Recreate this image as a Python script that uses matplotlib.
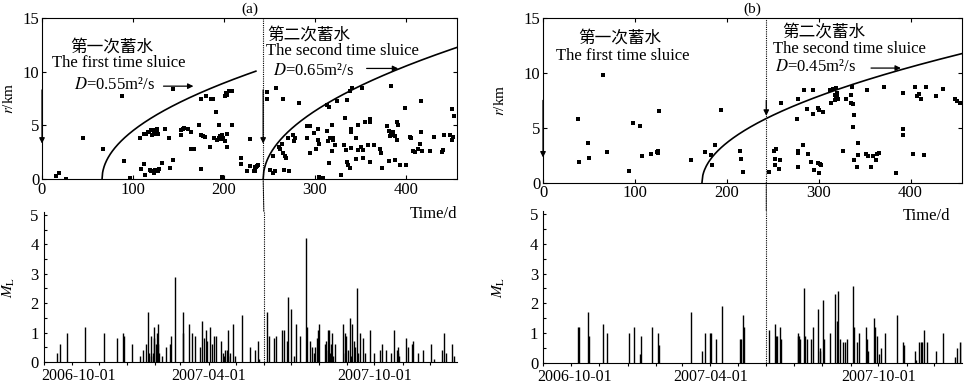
import numpy as np
import pandas as pd
import matplotlib
matplotlib.use('Agg')
import matplotlib.pyplot as plt
from matplotlib.patches import ConnectionPatch
from matplotlib.ticker import MultipleLocator, FixedLocator
import matplotlib.transforms as mtransforms

plt.rcParams['font.family'] = ['Liberation Serif', 'Noto Sans CJK SC']
plt.rcParams['mathtext.fontset'] = 'stix'

# ============================================================
# data (days since 2006-10-01)
# ============================================================
start_date = '2006-10-01'
date_labels = ['2006-10-01', '2007-04-01', '2007-10-01']
sluice_day = 243
x_end = 456

# (a) hypocentre distance r (km) vs time
a_days = [15, 18.6, 26, 44.6, 66.5, 88, 90, 96.6, 107.6, 109, 112, 113, 112, 116.7, 118.5, 120,
          113.8, 117.4, 121, 123.3, 124.7, 126.9, 127.7, 121, 124.7, 126,
          120.3, 123, 124.7, 127.7, 129, 132, 135.7, 139.4, 140.5, 144, 144,
          152.5, 154.4, 156.2, 160.6, 163.5, 152.5, 164, 167, 173,
          174.5, 180, 186, 188, 175, 177, 179, 175, 184.4, 189, 191,
          192, 194, 196, 197, 198, 199, 201, 203, 203, 194, 198,
          201, 202, 203, 209, 205, 209, 219, 219, 228, 234, 234, 225, 228, 236,
          233, 235.3, 237.8, 247, 247, 257, 265, 282.8, 313.5, 315.4, 324.5, 335.5, 338.4, 340.3,
          351.3, 384, 398.8, 416, 450, 452.6,
          254, 250, 253.5, 256, 260, 261, 264, 265, 266.5, 268, 270, 276, 278, 277, 266, 271,
          291.6, 294.5, 299, 303.6, 295, 291.6, 303, 304, 301, 304.7, 308.4,
          313, 316, 318, 320, 314, 320, 322, 319, 319, 315,
          329, 333, 335, 336, 338, 332, 334, 340, 340, 340, 345, 347, 350, 347, 345,
          355, 360.6, 360.6, 353, 358, 353, 360, 365, 371, 372, 374,
          379, 381, 382, 383, 386, 388, 390, 391, 390, 381, 388, 393, 400,
          404, 406, 408, 409.5, 413, 415, 416, 417, 426, 430.6, 440, 441, 442, 448, 450, 452]
a_r = [0.3, 0.55, 0.0, 3.8, 2.8, 7.7, 1.7, 0.1, 3.8, 0.9, 1.4, 0.4, 4.2, 4.4, 0.8, 4.6,
       4.2, 4.4, 4.6, 4.5, 4.6, 4.4, 4.2, 4.1, 4.2, 4.7,
       0.7, 0.6, 0.8, 0.7, 0.9, 1.5, 4.7, 3.85, 1.0, 1.8, 8.4,
       4.6, 4.7, 4.75, 4.7, 4.4, 4.1, 2.8, 2.8, 5.0,
       7.5, 7.7, 7.5, 7.5, 4.1, 4.0, 3.9, 0.9, 3.0, 3.8, 6.2,
       3.6, 3.8, 4.0, 3.7, 4.1, 3.8, 3.5, 3.0, 4.2, 5.0, 0.2,
       7.7, 8.0, 7.8, 8.2, 8.2, 5.0, 2.0, 1.4, 3.7, 1.1, 0.75, 0.7, 1.2, 1.25,
       0.75, 1.15, 1.3, 8.1, 7.5, 8.45, 7.5, 7.1, 6.9, 6.7, 7.3, 7.4, 8.2, 8.45,
       8.45, 8.65, 6.6, 7.3, 6.5, 5.9,
       2.15, 0.8, 0.6, 0.75, 3.0, 2.8, 3.3, 2.4, 2.1, 1.95, 3.8, 4.1, 3.8, 3.5, 0.8, 0.75,
       4.9, 4.9, 4.3, 4.7, 2.4, 3.8, 3.6, 3.3, 2.8, 0.2, 0.05,
       4.5, 3.8, 3.8, 3.8, 3.5, 3.6, 3.2, 2.6, 5.0, 1.45,
       0.4, 5.65, 1.6, 1.3, 1.05, 3.2, 2.7, 2.9, 4.7, 4.4, 3.8, 2.7, 3.0, 5.0, 1.9,
       5.3, 5.6, 5.3, 2.7, 3.2, 2.0, 1.6, 3.2, 2.8, 2.4, 1.0,
       4.9, 4.5, 4.0, 4.1, 4.4, 4.0, 5.3, 5.0, 3.6, 1.7, 1.8, 1.3, 1.3,
       3.9, 3.8, 2.6, 2.5, 2.8, 3.3, 4.4, 2.6, 2.6, 3.9, 2.5, 2.7, 4.1, 4.1, 3.6, 3.9]

# (b) hypocentre distance r (km) vs time
b_days = [65, 38.4, 39, 49.3, 50.4, 69.2, 93.9, 97.9, 105.8, 107.3, 117.4, 124.7, 125, 124, 125.8,
          161.3, 176.5, 182.6, 183.4, 187.4, 194.2, 214.1, 215.6, 217.8,
          246.4, 251.8, 253.7, 252.6, 258.4, 252.6, 257.3, 259, 276.5, 278, 284.5, 293.5,
          278, 277, 283, 288, 278, 292, 295, 299, 301.5, 302.6, 300,
          287, 293.5, 299.7, 300.8, 304.6,
          313, 312, 315.7, 317.5, 319.3, 320.4, 318.2, 321.1, 320, 319,
          326, 330, 335.5, 336.3, 335.5, 337, 338, 337, 338, 341.7, 343, 343,
          351.5, 353.3, 358.7, 363.4, 366, 352.6, 357, 362,
          371.4, 384, 391.7, 392, 391.7, 403, 414.9,
          404.8, 407, 409.5, 411.3, 416.7, 427.6, 434.8, 448, 451, 454]
b_r = [9.8, 5.8, 1.9, 3.65, 2.25, 2.8, 1.1, 5.45, 5.2, 2.45, 2.65, 2.9, 2.75, 2.8, 6.55,
       2.1, 2.8, 2.5, 1.65, 3.4, 6.6, 2.9, 2.2, 1.0,
       0.95, 2.9, 3.05, 2.15, 2.05, 1.6, 1.25, 7.3, 5.8, 7.6, 8.4, 8.4,
       2.9, 2.7, 3.4, 2.6, 1.4, 1.9, 1.2, 1.8, 1.7, 1.6, 0.85,
       6.7, 6.3, 6.8, 6.6, 6.4,
       7.3, 8.4, 8.5, 8.0, 8.6, 7.8, 7.5, 7.6, 8.2, 7.9,
       2.85, 7.6, 7.3, 8.7, 8.0, 7.2, 6.2, 5.1, 2.05, 1.4, 3.65, 2.5,
       2.6, 2.4, 2.4, 2.6, 2.75, 8.4, 1.4, 2.1,
       8.7, 0.9, 8.2, 4.9, 4.3, 2.6, 2.55,
       8.7, 7.9, 8.1, 7.6, 8.7, 7.9, 8.5, 7.6, 7.45, 7.3]

# (a) magnitude ML vs time
a_eq_days = [15, 17.9, 26, 45.3, 67, 80.8, 87.4, 89.2, 97.3, 106.8, 109.6, 112.5, 115.6, 116.5, 118,
             119, 120.6, 121.5, 122.4, 124, 125, 125.8, 126.5, 127.5, 130.2, 135, 139.6, 140.7, 144.5,
             153.3, 154, 160.6, 163.5, 167.2, 173, 175, 177, 179, 180, 183.3, 186, 188, 190,
             196, 198, 199, 200, 202, 203, 204, 206, 209.2, 211, 219, 227.5, 233.7, 236, 238,
             247, 249, 253.8, 256.4, 263.4, 265, 268.7, 270, 273.3, 276, 278.8, 282.5, 290, 291,
             294, 296, 298, 299, 301.5, 302.6, 304, 310, 311.5, 313.3, 314, 315, 316, 317, 318.7,
             319.5, 321.5, 330, 332.5, 333, 334, 336, 338.4, 339, 340, 342.5, 343, 345.8, 347,
             349.4, 352, 355, 360.4, 364, 370.7, 373, 378, 383, 386.7, 389.6, 390.5, 391.4, 392.5,
             399.5, 402.4, 406, 408, 413, 418, 427.5, 430.4, 440, 441.6, 444, 450, 452.6]
a_ml = [0.3, 0.6, 1.0, 1.2, 1.0, 0.8, 1.0, 0.9, 0.6, 0.2, 0.4, 0.6, 1.7, 0.3, 0.9,
        0.2, 0.3, 1.2, 0.8, 0.6, 1.0, 1.3, 0.6, 0.3, 0.2, 0.5, 0.6, 0.9, 2.9,
        1.7, 1.0, 1.3, 1.0, 0.9, 0.5, 1.4, 0.8, 1.1, 0.7, 1.2, 0.6, 0.9, 0.9,
        0.7, 0.3, 0.2, 0.4, 0.4, 0.2, 1.1, 0.3, 1.3, 0.2, 1.6, 0.5, 0.4, 0.7, 0.1,
        1.7, 0.9, 0.8, 0.9, 1.1, 1.1, 0.7, 2.2, 1.8, 0.2, 1.3, 0.9, 4.2, 1.2,
        0.7, 0.5, 0.3, 0.5, 0.8, 1.1, 1.3, 0.6, 0.7, 1.1, 0.4, 1.1, 0.3, 0.6, 1.0,
        0.2, 0.6, 1.3, 1.0, 0.3, 0.9, 0.4, 1.5, 0.2, 1.3, 0.7, 0.5, 2.5, 0.3,
        1.0, 0.8, 0.3, 1.1, 0.3, 0.4, 0.6, 0.4, 0.3, 1.1, 0.4, 0.3, 0.5, 0.2,
        0.8, 0.5, 0.6, 0.7, 0.3, 0.4, 0.6, 0.1, 0.4, 1.0, 0.3, 0.6, 0.2]

# (b) magnitude ML vs time
b_eq_days = [38.4, 39.5, 49.3, 50.4, 65, 69.6, 93.9, 98.6, 105.9, 106.5, 118.2, 125.4, 126.5, 161.6,
             172.9, 176.5, 182, 183, 188, 195.3, 214.5, 215.5, 217.8, 218.9,
             246.4, 252.6, 253.7, 255, 258.4, 259, 277, 278, 279, 280, 284.5, 285.5, 287, 291.7,
             294.2, 299.7, 301, 302, 305, 306, 312.7, 317.8, 320, 321.4, 323, 326, 328.5, 331,
             337, 338, 342, 344, 351.5, 352.5, 353.3, 359.8, 361.3, 364, 366, 368, 372, 384.8,
             391.3, 392.4, 404.8, 405.5, 409.5, 411.3, 413, 414.9, 417.4, 427.6, 434.8, 448, 451,
             453.5, 455.5]
b_ml = [1.2, 1.2, 1.7, 0.9, 1.3, 1.0, 1.0, 1.2, 0.3, 0.9, 1.2, 1.0, 0.6, 1.7,
        0.4, 1.0, 1.0, 1.0, 0.8, 1.9, 0.8, 0.8, 1.6, 1.2,
        1.1, 1.3, 0.9, 0.9, 1.2, 0.8, 0.9, 1.0, 0.9, 0.8, 2.5, 0.9, 0.8, 0.8,
        1.2, 1.8, 0.5, 0.4, 2.1, 0.8, 1.0, 2.3, 1.4, 2.4, 0.8, 0.7, 0.7, 0.8,
        2.6, 1.2, 0.7, 1.0, 1.2, 0.8, 0.4, 1.5, 1.2, 0.9, 0.3, 0.5, 1.0, 1.6,
        0.7, 0.6, 0.4, 0.1, 0.7, 0.7, 0.7, 1.1, 0.7, 0.4, 1.0, 0.2, 0.5,
        0.7, 0.7]

# diffusion fronts: (D m^2/s, start day, end day)
a_fronts = [(0.55, 66, 235), (0.65, 243, 456)]
b_fronts = [(0.45, 173, 456)]

a_texts = [("第一次蓄水", 77, 12.2, 'center'),
           ("The first time sluice", 84, 10.8, 'center'),
           ("$D$=0.55m²/s", 34.7, 8.74, 'left'),
           ("第二次蓄水", 293.5, 13.4, 'center'),
           ("The second time sluice", 329.6, 11.9, 'center'),
           ("$D$=0.65m²/s", 254, 10.05, 'left')]
b_texts = [("第一次蓄水", 84, 13.1, 'center'),
           ("The first time sluice", 87, 11.5, 'center'),
           ("第二次蓄水", 306, 13.7, 'center'),
           ("The second time sluice", 333, 12.2, 'center'),
           ("$D$=0.45m²/s", 252, 10.56, 'left')]

# arrows (x0, y0, x1, y1)
a_arrows = [(133.5, 8.65, 166.4, 8.65), (356.7, 10.3, 391.4, 10.3),
            (0, 8.3, 0, 3.3), (sluice_day, 8.3, sluice_day, 3.3)]
b_arrows = [(357, 10.44, 389.5, 10.44),
            (0, 7.5, 0, 2.3), (sluice_day, 7.5, sluice_day, 6.1)]

# ============================================================
# figure geometry (pixels)
# ============================================================
W, H = 964, 385
fig = plt.figure(figsize=(W / 100, H / 100), dpi=100)


def rect(l, t, r, b):
    return [l / W, 1 - b / H, (r - l) / W, (b - t) / H]


fsize_tick = 12
fsize_text = 12
ml_top = 5.1

month_days = (pd.date_range(start_date, periods=16, freq='MS') - pd.Timestamp(start_date)).days
label_days = [(pd.Timestamp(d) - pd.Timestamp(start_date)).days for d in date_labels]


def draw_panel(title, rt, rb, days, r, fronts, eq_days, ml, texts, arrows,
               ylab_x, ylab_xb, timelab_x, timelab_y, first_shift):
    ax = fig.add_axes(rect(*rt))
    axb = fig.add_axes(rect(*rb))
    axb.patch.set_visible(False)

    # --- top: r vs time
    ax.scatter(days, r, s=6, marker='s', color='k', linewidths=0, zorder=3)
    for D, t0, t1 in fronts:
        t = np.linspace(t0, t1, 300)
        ax.plot(t, np.sqrt(4 * np.pi * D * (t - t0) * 86400) / 1000, color='k', lw=1.2)
    ax.axvline(sluice_day, color='k', ls=(0, (1, 1)), lw=0.8)
    for txt, x, y, ha in texts:
        ax.text(x, y, txt, ha=ha, va='center', fontsize=fsize_text)
    for x0, y0, x1, y1 in arrows:
        ax.annotate('', xy=(x1, y1), xytext=(x0, y0), annotation_clip=False,
                    arrowprops=dict(arrowstyle='-|>', color='k', lw=0.9,
                                    mutation_scale=8, shrinkA=0, shrinkB=0))
    ax.set_xlim(0, x_end)
    ax.set_ylim(0, 15)
    ax.set_xticks([0, 100, 200, 300, 400])
    ax.set_yticks([0, 5, 10, 15])
    ax.tick_params(direction='in', length=3, width=0.8, top=True, right=True,
                   labelsize=fsize_tick, pad=2)
    for sp in ax.spines.values():
        sp.set_linewidth(0.8)
    ax.set_title(title, fontsize=11, pad=4)
    ax.set_ylabel(r'$r$/km', fontsize=11)
    ax.yaxis.set_label_coords(ylab_x, 0.5)
    ax.set_xlabel('Time/d', fontsize=12, ha='right')
    ax.xaxis.set_label_coords(timelab_x, timelab_y)

    # --- bottom: ML vs time
    axb.vlines(eq_days, 0, ml, color='k', lw=1.0)
    axb.axvline(sluice_day, color='k', ls=(0, (1, 1)), lw=0.8)
    con = ConnectionPatch((sluice_day, 0), (sluice_day, ml_top), coordsA=ax.transData,
                          coordsB=axb.transData, color='k', ls=(0, (1, 1)), lw=0.8)
    fig.add_artist(con)
    axb.set_xlim(0, x_end)
    axb.set_ylim(0, ml_top)
    axb.spines['top'].set_visible(False)
    axb.spines['right'].set_visible(False)
    for sp in axb.spines.values():
        sp.set_linewidth(0.8)
    axb.xaxis.set_minor_locator(FixedLocator(month_days))
    axb.set_xticks(label_days)
    axb.set_xticklabels(date_labels)
    axb.yaxis.set_major_locator(MultipleLocator(1))
    axb.yaxis.set_minor_locator(MultipleLocator(0.5))
    axb.tick_params(axis='x', which='both', direction='out', length=2.5, width=0.8,
                    labelsize=11.5, pad=2)
    axb.tick_params(axis='y', which='both', direction='in', length=2.5, width=0.8,
                    labelsize=fsize_tick)
    lab0 = axb.get_xticklabels()[0]
    lab0.set_transform(lab0.get_transform() +
                       mtransforms.ScaledTranslation(first_shift, 0, fig.dpi_scale_trans))
    axb.set_ylabel(r'$M_{\mathrm{L}}$', fontsize=11)
    axb.yaxis.set_label_coords(ylab_xb, 0.5)
    return ax, axb


draw_panel('(a)', (42, 18, 457, 179), (43.5, 212, 457, 362),
           a_days, a_r, a_fronts, a_eq_days, a_ml, a_texts, a_arrows,
           -0.062, -0.064, 1.0, -0.165, 0.35)
draw_panel('(b)', (543, 18, 962, 182.7), (543, 211, 962, 363),
           b_days, b_r, b_fronts, b_eq_days, b_ml, b_texts, b_arrows,
           -0.085, -0.086, 0.971, -0.155, 0.32)

fig.savefig('out.png', dpi=100)
